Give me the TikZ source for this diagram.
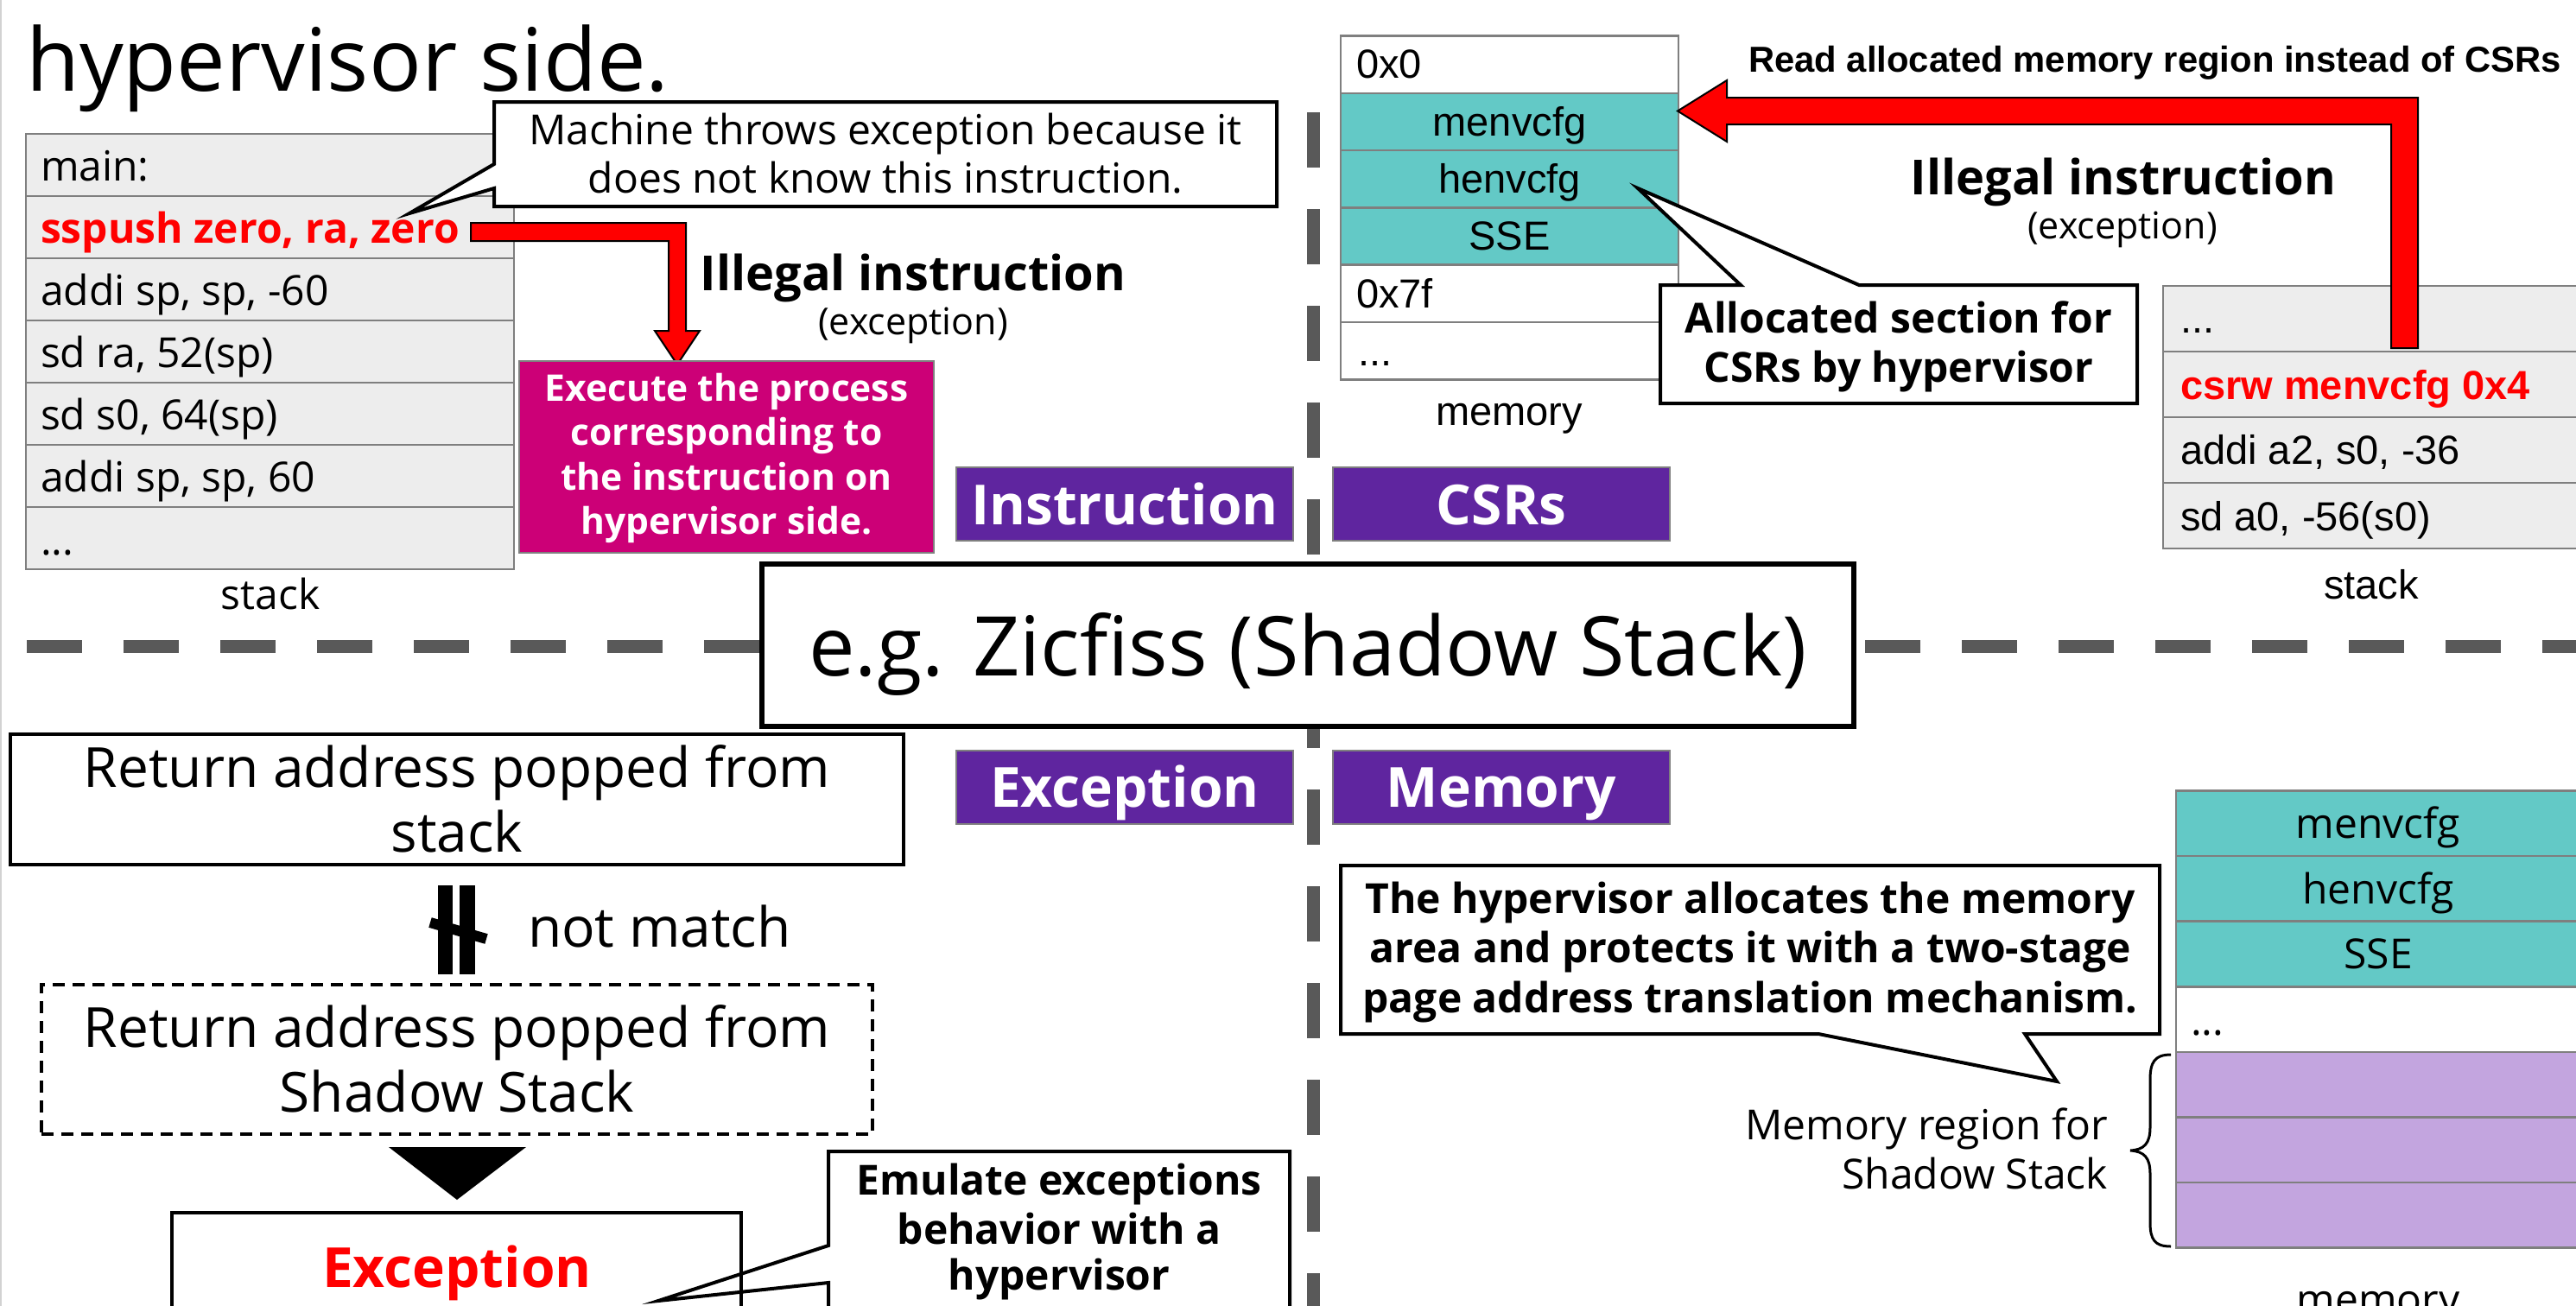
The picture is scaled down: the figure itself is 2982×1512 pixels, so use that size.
\documentclass[tikz,border=0pt]{standalone}
\usepackage{fontspec}
\setmainfont{Open Sans}
\newfontfamily\arialf{Liberation Sans}
\definecolor{tealc}{RGB}{99,201,198}
\definecolor{purp}{RGB}{95,37,159}
\definecolor{magc}{RGB}{204,0,119}
\definecolor{lavc}{RGB}{195,165,223}
\definecolor{stkc}{RGB}{237,237,237}
\definecolor{bordc}{RGB}{127,127,127}
\definecolor{dashc}{RGB}{89,89,89}
\newcommand{\fsz}[1]{\fontsize{#1}{#1}\selectfont}
\begin{document}
\begin{tikzpicture}[x=1pt,y=-1pt,
  txt/.style={inner sep=0pt,outer sep=0pt,anchor=base},
  txtl/.style={inner sep=0pt,outer sep=0pt,anchor=base west},
  txtr/.style={inner sep=0pt,outer sep=0pt,anchor=base east},
  box/.style={inner sep=0pt,outer sep=0pt,anchor=north west},
  stkrow/.style={box,draw=bordc,fill=stkc,line width=2.5pt,minimum width=565pt,minimum height=72pt},
  memrow/.style={box,draw=bordc,line width=2.5pt,minimum width=391pt,minimum height=66.3pt},
  rstkrow/.style={box,draw=bordc,fill=stkc,line width=2.5pt,minimum width=500pt,minimum height=76pt},
  bmemrow/.style={box,draw=bordc,line width=2.5pt,minimum width=468pt,minimum height=75.6pt},
  purpbox/.style={box,fill=purp,draw=bordc,line width=2pt,minimum width=390pt,minimum height=84.5pt},
  purptxt/.style={txt,text=white,font=\fsz{64}\bfseries},
  callout/.style={draw=black,fill=white,line width=4pt,line join=miter},
  redarrow/.style={fill=red,draw=black,line width=2pt,line join=miter},
  dashline/.style={draw=dashc,line width=15pt,dash pattern=on 64pt off 48pt},
  regular/.style={font=\fsz{48}},
  calltxt/.style={txt,font=\fsz{48}\bfseries},
  arialtxt/.style={font=\arialf\fsz{47}}]
\useasboundingbox (0,0) rectangle (2982,1512);
\clip (0,0) rectangle (2982,1512);
\fill[white] (0,0) rectangle (2982,1512);
\draw[gray!35,line width=2pt] (1,0) -- (1,1512);

% dashed separators
\draw[dashline] (1520,130) -- (1520,1540);
\draw[dashline] (31,748) -- (3000,748);

% title
\node[txtl,font=\fsz{101}] (title) at (30,106) {hypervisor side.};

% ---------- left stack ----------
\node[stkrow] (s1) at (30,155) {};
\node[stkrow] (s2) at (30,227) {};
\node[stkrow] (s3) at (30,299) {};
\node[stkrow] (s4) at (30,371) {};
\node[stkrow] (s5) at (30,443) {};
\node[stkrow] (s6) at (30,515) {};
\node[stkrow] (s7) at (30,587) {};
\node[txtl,regular] (t1) at (47,209) {main:};
\node[txtl,font=\fsz{48}\bfseries,text=red] (t2) at (47,281) {sspush zero, ra, zero};
\node[txtl,regular] (t3) at (47,353) {addi sp, sp, -60};
\node[txtl,regular] (t4) at (47,425) {sd ra, 52(sp)};
\node[txtl,regular] (t5) at (47,497) {sd s0, 64(sp)};
\node[txtl,regular] (t6) at (47,569) {addi sp, sp, 60};
\node[txtl,regular] (t7) at (47,642) {...};
\node[txt,regular] (stacklbl) at (313,705) {stack};

% red arrow left
\draw[redarrow] (545,258) -- (794,258) -- (794,383) -- (810,383) -- (784,422) -- (758,383) -- (774,383) -- (774,279) -- (545,279) -- cycle;

% callout machine
\draw[callout] (572,118) -- (1478,118) -- (1478,239) -- (572,239) -- (572,218) -- (474,247) -- (572,190) -- cycle;
\node[txt,regular] (m1) at (1025,167) {Machine throws exception because it};
\node[txt,regular] (m2) at (1025,223) {does not know this instruction.};

\node[txt,font=\fsz{56}\bfseries] (ill1) at (1057,336) {Illegal instruction};
\node[txt,font=\fsz{43}] (exc1) at (1057,387) {(exception)};

% magenta box
\node[box,fill=magc,draw=bordc,line width=2pt,minimum width=480pt,minimum height=222pt] (execbox) at (601,418) {};
\node[txt,text=white,font=\fsz{42.5}\bfseries] (e1) at (841,464) {Execute the process};
\node[txt,text=white,font=\fsz{42.5}\bfseries] (e2) at (841,515.5) {corresponding to};
\node[txt,text=white,font=\fsz{42.5}\bfseries] (e3) at (841,567) {the instruction on};
\node[txt,text=white,font=\fsz{42.5}\bfseries] (e4) at (841,618.5) {hypervisor side.};

% purple labels
\node[purpbox] (pinst) at (1107,541) {};
\node[purptxt] at (1302,607) {Instruction};
\node[purpbox] (pcsr) at (1543,541) {};
\node[purptxt] at (1738,607) {CSRs};
\node[purpbox] (pexc) at (1107,869) {};
\node[purptxt] at (1302,934.5) {Exception};
\node[purpbox] (pmem) at (1543,869) {};
\node[purptxt] at (1738,934.5) {Memory};

% ---------- top memory ----------
\node[memrow,fill=white] (r1) at (1552,41.5) {};
\node[memrow,fill=tealc] (r2) at (1552,107.8) {};
\node[memrow,fill=tealc] (r3) at (1552,174.1) {};
\node[memrow,fill=tealc] (r4) at (1552,240.4) {};
\node[memrow,fill=white] (r5) at (1552,306.7) {};
\node[memrow,fill=white] (r6) at (1552,373) {};
\node[txtl,arialtxt] at (1570,91) {0x0};
\node[txt,arialtxt] at (1747.5,157) {menvcfg};
\node[txt,arialtxt] at (1747.5,223.5) {henvcfg};
\node[txt,arialtxt] at (1747.5,289.5) {SSE};
\node[txtl,arialtxt] at (1570,356) {0x7f};
\node[txtl,arialtxt] at (1572,423) {...};
\node[txt,arialtxt] (memlbl) at (1747,492) {memory};

% right stack
\node[rstkrow] (q1) at (2504,331) {};
\node[rstkrow] (q2) at (2504,407) {};
\node[rstkrow] (q3) at (2504,483) {};
\node[rstkrow] (q4) at (2504,559) {};
\node[txtl,arialtxt] at (2524,385) {...};
\node[txtl,font=\arialf\fsz{47}\bfseries,text=red] at (2524,462) {csrw menvcfg 0x4};
\node[txtl,arialtxt] at (2524,537.5) {addi a2, s0, -36};
\node[txtl,arialtxt] at (2524,614) {sd a0, -56(s0)};
\node[txt,arialtxt] (rstacklbl) at (2745,693) {stack};

% top red arrow
\draw[redarrow] (2799,403) -- (2799,113) -- (1999,113) -- (1999,93) -- (1942,128.5) -- (1999,164) -- (1999,144) -- (2768,144) -- (2768,403) -- cycle;
\node[txtl,font=\arialf\fsz{41.8}\bfseries] (readtxt) at (2024,83) {Read allocated memory region instead of CSRs};
\node[txt,font=\fsz{56}\bfseries] (ill2) at (2458,225) {Illegal instruction};
\node[txt,font=\fsz{43}] (exc2) at (2457,276) {(exception)};

% allocated callout
\draw[callout] (1922,330) -- (2015,330) -- (1896,218) -- (2152,330) -- (2474,330) -- (2474,467) -- (1922,467) -- cycle;
\node[calltxt] at (2198,385) {Allocated section for};
\node[calltxt] at (2198,442) {CSRs by hypervisor};

% central box
\node[box,draw=black,fill=white,line width=6pt,minimum width=1264pt,minimum height=188pt] (zic) at (882,653) {};
\node[txt,font=\fsz{95.5}] at (1514,782) {e.g. Zicfiss (Shadow Stack)};

% ---------- bottom left ----------
\node[box,draw=black,line width=4pt,minimum width=1034.5pt,minimum height=151pt] (ret1) at (11.5,850) {};
\node[txt,font=\fsz{64}] at (529,911) {Return address popped from};
\node[txt,font=\fsz{64}] at (529,986) {stack};

% not parallel symbol
\fill (507,1025) rectangle (524,1128);
\fill (532,1025) rectangle (550,1128);
\draw[line width=12pt] (498,1068) -- (563,1087);
\node[txtl,font=\fsz{64}] (nm) at (611,1096) {not match};

\node[box,draw=black,line width=4pt,dash pattern=on 14pt off 9pt,minimum width=962pt,minimum height=173pt] (ret2) at (48,1140) {};
\node[txt,font=\fsz{64}] at (529,1212) {Return address popped from};
\node[txt,font=\fsz{64}] at (529,1287) {Shadow Stack};

\fill[black] (450,1328) -- (609,1328) -- (529,1389) -- cycle;

% emulate callout
\draw[callout] (959,1333) -- (1493,1333) -- (1493,1540) -- (959,1540) -- (959,1485) -- (762,1506) -- (959,1442) -- cycle;
\node[calltxt] at (1226,1383) {Emulate exceptions};
\node[calltxt] at (1226,1440) {behavior with a};
\node[calltxt] at (1226,1493) {hypervisor};

\node[box,draw=black,line width=4pt,minimum width=659pt,minimum height=140pt] (excbox) at (199,1404) {};
\node[txt,text=red,font=\fsz{64}\bfseries] at (529,1490) {Exception};

% ---------- bottom right ----------
\node[bmemrow,fill=tealc] (b1) at (2519,915.5) {};
\node[bmemrow,fill=tealc] (b2) at (2519,991.1) {};
\node[bmemrow,fill=tealc] (b3) at (2519,1066.7) {};
\node[bmemrow,fill=white] (b4) at (2519,1142.3) {};
\node[bmemrow,fill=lavc] (b5) at (2519,1217.9) {};
\node[bmemrow,fill=lavc] (b6) at (2519,1293.5) {};
\node[bmemrow,fill=lavc] (b7) at (2519,1369.1) {};
\node[txt,regular] at (2753,970.5) {menvcfg};
\node[txt,regular] at (2753,1046) {henvcfg};
\node[txt,regular] at (2753,1121.5) {SSE};
\node[txtl,regular] at (2536,1198) {...};
\node[txt,regular] (bmemlbl) at (2753,1521) {memory};

% brace
\draw[line width=3pt] (2513,1221) .. controls (2494,1221) and (2489,1230) .. (2489,1250) -- (2489,1305) .. controls (2489,1324) and (2482,1331) .. (2466,1332) .. controls (2482,1333) and (2489,1340) .. (2489,1359) -- (2489,1415) .. controls (2489,1435) and (2494,1443) .. (2513,1443);
\node[txtr,regular] at (2440,1319) {Memory region for};
\node[txtr,regular] at (2440,1376) {Shadow Stack};

% hypervisor allocates callout
\draw[callout] (1552,1002) -- (2500,1002) -- (2500,1197) -- (2344,1197) -- (2381,1252) -- (2105,1197) -- (1552,1197) -- cycle;
\node[calltxt] at (2026,1057) {The hypervisor allocates the memory};
\node[calltxt] at (2026,1114) {area and protects it with a two-stage};
\node[calltxt] at (2026,1172) {page address translation mechanism.};
\end{tikzpicture}
\end{document}
